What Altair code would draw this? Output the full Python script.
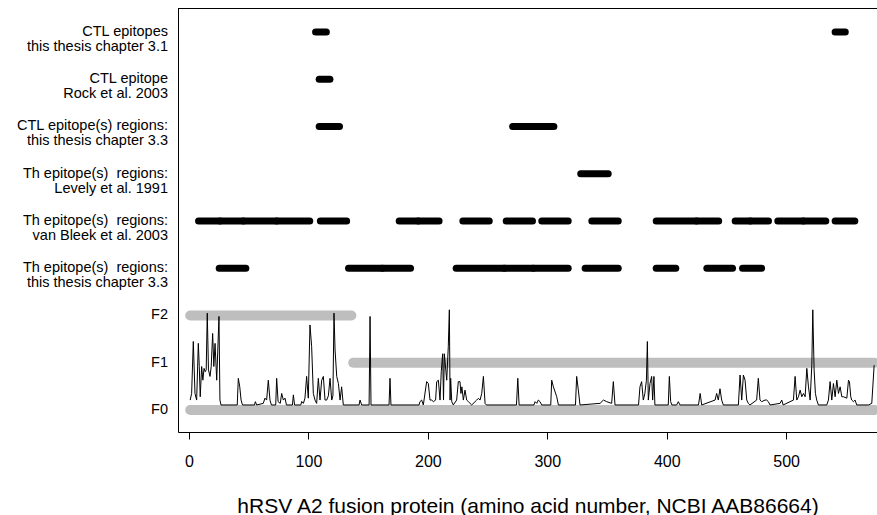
import altair as alt
import pandas as pd

# ---------------- row labels (y = row index) ----------------
row_index = [0, 1, 2, 3, 4, 5, 6, 7, 8]
row_line1 = ["F0", "F1", "F2",
             "Th epitope(s)\u00a0 regions:",
             "Th epitope(s)\u00a0 regions:",
             "Th epitope(s)\u00a0 regions:",
             "CTL epitope(s) regions:",
             "CTL epitope",
             "CTL epitopes"]
row_line2 = ["", "", "",
             "this thesis chapter 3.3",
             "van Bleek et al. 2003",
             "Levely et al. 1991",
             "this thesis chapter 3.3",
             "Rock et al. 2003",
             "this thesis chapter 3.1"]

# ---------------- grey frame bars F0 / F1 / F2 ----------------
f_row = [0, 1, 2]
f_start = [1, 137.5, 1]
f_end = [574, 574, 136]

# ---------------- epitope regions per row ----------------
th33_start = [25.3, 133.6, 161.9, 223.7, 264.0, 288.3, 331.7, 391.2, 433.6, 463.5]
th33_end   = [47.6, 161.9, 185.5, 264.0, 288.3, 317.5, 359.4, 407.6, 455.1, 479.4]

vb_start = [8.0, 26.0, 45.5, 73.4, 110.0, 176.0, 192.0, 229.3, 265.6, 295.4,
            337.3, 391.2, 425.0, 457.3, 470.0, 493.0, 514.4, 541.0]
vb_end   = [26.0, 45.5, 73.4, 101.1, 132.0, 192.0, 209.4, 251.4, 287.6, 317.5,
            359.4, 425.0, 443.5, 470.0, 485.2, 514.4, 533.2, 557.5]

levely_start = [328.0]
levely_end = [351.0]

ctl33_start = [109.0, 271.0]
ctl33_end = [126.0, 305.5]

rock_start = [109.0]
rock_end = [118.0]

ctl31_start = [106.0, 541.0]
ctl31_end = [115.0, 549.5]

# ---------------- trace (amino acid position, value) ----------------
trace_pos = [
    1, 2.2, 3.6, 5.0, 6.4, 7.8, 8.6, 9.4, 10.6, 11.6, 12.6, 13.6, 14.4, 15.3, 16.3,
    17.6, 18.6, 19.8, 20.8, 21.8, 23.2, 25.1, 25.9, 26.8,
    40.4, 41.3, 42.5, 43.6, 44.8,
    54.8, 55.6, 56.6,
    62.2, 63.6, 65.0, 66.4, 67.8, 69.0,
    72.6, 73.4, 74.6, 76.4, 77.6, 79.0, 80.4, 81.6,
    86.6, 87.4, 88.4,
    93.6, 94.4, 95.8, 97.1, 98.5, 99.9, 101.3, 102.7, 104.1, 105.5, 106.9, 108.3,
    109.7, 111.1, 112.5, 113.9, 115.3, 116.7, 118.1, 119.5, 120.5, 121.4, 122.3,
    123.7, 125.1, 126.5, 127.8, 129.2,
    142.4, 143.2, 144.6,
    150.8, 151.6, 152.4,
    167.5, 168.3, 169.1,
    192.6, 193.4, 194.8, 196.2, 199.0, 200.4, 201.8, 203.2, 204.6, 206.5, 207.4,
    208.8, 210.2, 211.2, 212.4, 213.1, 213.8, 215.8, 217.1, 218.0, 218.6, 219.1,
    220.0, 221.3, 224.1, 225.5, 226.9, 227.7, 228.5, 229.7, 231.1, 232.5, 233.9,
    236.7, 240.9, 242.3, 243.7, 245.1, 246.5, 247.9, 249.0,
    274.2, 275.3, 276.4,
    288.8, 289.8, 291.2, 292.5, 293.9, 295.3,
    302.9, 303.7, 305.1, 307.9, 309.3,
    323.6, 324.6, 326.0, 327.4,
    344.2, 347.0, 349.7, 353.9, 355.3, 356.7,
    376.4, 377.6, 379.0, 380.4, 381.7, 383.0, 383.8, 384.6, 386.0, 387.4, 388.2,
    389.3, 390.1,
    401.3, 402.2, 403.3, 404.3,
    408.3, 409.7, 411.1,
    426.6, 428.0, 429.3,
    440.5, 441.8, 443.2, 444.6, 446.0, 447.4,
    460.0, 461.4, 462.8, 464.2, 465.6, 467.0, 468.3, 469.7,
    475.3, 476.7, 478.1, 479.5, 482.3, 483.7, 485.1, 486.5,
    494.9, 496.3, 497.5,
    506.1, 507.5, 508.9, 510.3, 511.7, 513.1, 514.5, 515.9, 517.3, 518.7, 520.1,
    521.5, 522.3, 523.4, 524.5, 525.6, 527.0,
    534.0, 535.4, 536.8, 538.2, 539.6, 541.0, 542.4, 543.8, 545.2, 546.6, 548.0,
    550.8, 552.2, 553.0, 554.1, 554.9, 556.3, 557.7, 559.1,
    568.9, 571.7, 573.7,
]
trace_val = [
    0.21, 0.35, 1.45, 0.35, 0.21, 1.41, 0.92, 0.28, 0.92, 0.63, 0.88, 0.81, 0.85, 2.05, 0.85,
    0.71, 0.92, 1.62, 0.92, 1.41, 0.63, 1.98, 0.21, 0.106,
    0.106, 0.67, 0.49, 0.21, 0.106,
    0.106, 0.176, 0.106,
    0.14, 0.25, 0.21, 0.63, 0.21, 0.106,
    0.106, 0.67, 0.176, 0.14, 0.35, 0.21, 0.25, 0.106,
    0.106, 0.32, 0.106,
    0.106, 0.18, 0.14, 0.25, 0.71, 0.25, 1.80, 1.34, 0.35, 0.21, 0.14, 0.67,
    0.21, 0.63, 0.71, 0.21, 0.21, 0.30, 0.67, 0.21, 0.30, 2.05, 1.27,
    0.71, 0.56, 0.21, 0.49, 0.106,
    0.106, 0.21, 0.106,
    0.106, 1.98, 0.106,
    0.106, 0.67, 0.106,
    0.106, 0.176, 0.21, 0.106, 0.60, 0.56, 0.21, 0.21, 0.176, 0.21, 0.60,
    0.63, 0.21, 0.81, 1.19, 0.21, 1.19, 0.63, 1.34, 2.12, 0.21, 0.67,
    0.176, 0.106, 0.21, 0.60, 0.60, 0.35, 0.49, 0.21, 0.42, 0.21, 0.176,
    0.106, 0.21, 0.247, 0.21, 0.35, 0.71, 0.14, 0.106,
    0.106, 0.67, 0.106,
    0.106, 0.176, 0.14, 0.21, 0.176, 0.106,
    0.106, 0.63, 0.49, 0.28, 0.106,
    0.106, 0.71, 0.42, 0.106,
    0.14, 0.21, 0.176, 0.14, 0.60, 0.106,
    0.106, 0.49, 0.60, 0.21, 0.35, 0.63, 1.45, 0.21, 0.56, 0.71, 0.21,
    0.71, 0.106,
    0.106, 0.71, 0.176, 0.106,
    0.106, 0.176, 0.106,
    0.106, 0.35, 0.106,
    0.21, 0.35, 0.21, 0.45, 0.21, 0.106,
    0.106, 0.74, 0.21, 0.74, 0.63, 0.21, 0.14, 0.106,
    0.21, 0.67, 0.21, 0.176, 0.21, 0.21, 0.176, 0.106,
    0.14, 0.21, 0.106,
    0.21, 0.71, 0.21, 0.28, 0.42, 0.28, 0.35, 0.28, 0.88, 0.49, 0.21,
    0.95, 2.12, 0.85, 0.35, 0.21, 0.106,
    0.106, 0.21, 0.60, 0.21, 0.56, 0.28, 0.63, 0.35, 0.49, 0.28, 0.28,
    0.25, 0.63, 0.60, 0.28, 0.21, 0.176, 0.21, 0.106,
    0.106, 0.14, 0.95,
]

# ---------------- tables ----------------
rows_df = pd.DataFrame({"row": row_index, "line1": row_line1, "line2": row_line2})
f_df = pd.DataFrame({"row": f_row, "start": f_start, "end": f_end})


def seg(row, starts, ends):
    return pd.DataFrame({"row": [row] * len(starts), "start": starts, "end": ends})


seg_df = pd.concat([
    seg(3, th33_start, th33_end),
    seg(4, vb_start, vb_end),
    seg(5, levely_start, levely_end),
    seg(6, ctl33_start, ctl33_end),
    seg(7, rock_start, rock_end),
    seg(8, ctl31_start, ctl31_end),
], ignore_index=True)
trace_df = pd.DataFrame({"pos": trace_pos, "val": trace_val})

W, H = 699, 424
FONT = "Liberation Sans"
xs = alt.Scale(domain=[-9.21, 576.07], nice=False, zero=False)
ys = alt.Scale(domain=[-0.466, 8.508], nice=False, zero=False)

x_axis = alt.Axis(
    values=[0, 100, 200, 300, 400, 500], format="d",
    title="hRSV A2 fusion protein (amino acid number, NCBI AAB86664)",
    titleFont=FONT, titleFontSize=21, titleFontWeight="normal", titleColor="black",
    titlePadding=26,
    labelFont=FONT, labelFontSize=16, labelColor="black", labelPadding=14,
    labelOverlap=False, labelFlush=False, labelBound=False,
    tickColor="black", tickSize=7, tickWidth=1,
    domainColor="black", domainWidth=1, grid=False,
)
y_axis = alt.Axis(domain=True, domainColor="black", domainWidth=1, ticks=False,
                  labels=False, grid=False, title=None)

grey = alt.Chart(f_df).mark_rule(color="#bebebe", strokeWidth=10, strokeCap="round").encode(
    x=alt.X("start:Q", scale=xs, axis=x_axis),
    x2="end:Q",
    y=alt.Y("row:Q", scale=ys, axis=y_axis),
)

trace = alt.Chart(trace_df).mark_line(color="black", strokeWidth=1).encode(
    x=alt.X("pos:Q", scale=xs),
    y=alt.Y("val:Q", scale=ys),
    order="pos:Q",
)

bars = alt.Chart(seg_df).mark_rule(color="black", strokeWidth=7, strokeCap="round").encode(
    x=alt.X("start:Q", scale=xs),
    x2="end:Q",
    y=alt.Y("row:Q", scale=ys),
)

lab1 = alt.Chart(rows_df).mark_text(align="right", baseline="middle", font=FONT,
                                    fontSize=14.5, color="black").encode(
    x=alt.value(-10),
    y=alt.Y("row:Q", scale=ys),
    text="line1:N",
)
lab2 = alt.Chart(rows_df).mark_text(align="right", baseline="middle", font=FONT,
                                    fontSize=14.5, color="black", dy=15).encode(
    x=alt.value(-10),
    y=alt.Y("row:Q", scale=ys),
    text="line2:N",
)

top_frame = alt.Chart(pd.DataFrame({"k": [0]})).mark_rule(color="black", strokeWidth=1).encode(
    x=alt.value(0), x2=alt.value(W), y=alt.value(0.5),
)

chart = alt.layer(grey, trace, bars, lab1, lab2, top_frame).properties(
    width=W, height=H,
    padding={"left": 178, "top": 8, "right": 0, "bottom": 83},
    autosize=alt.AutoSizeParams(type="none"),
).configure_view(stroke=None)

chart.save("out.html", embed_options={"renderer": "svg", "actions": False})
